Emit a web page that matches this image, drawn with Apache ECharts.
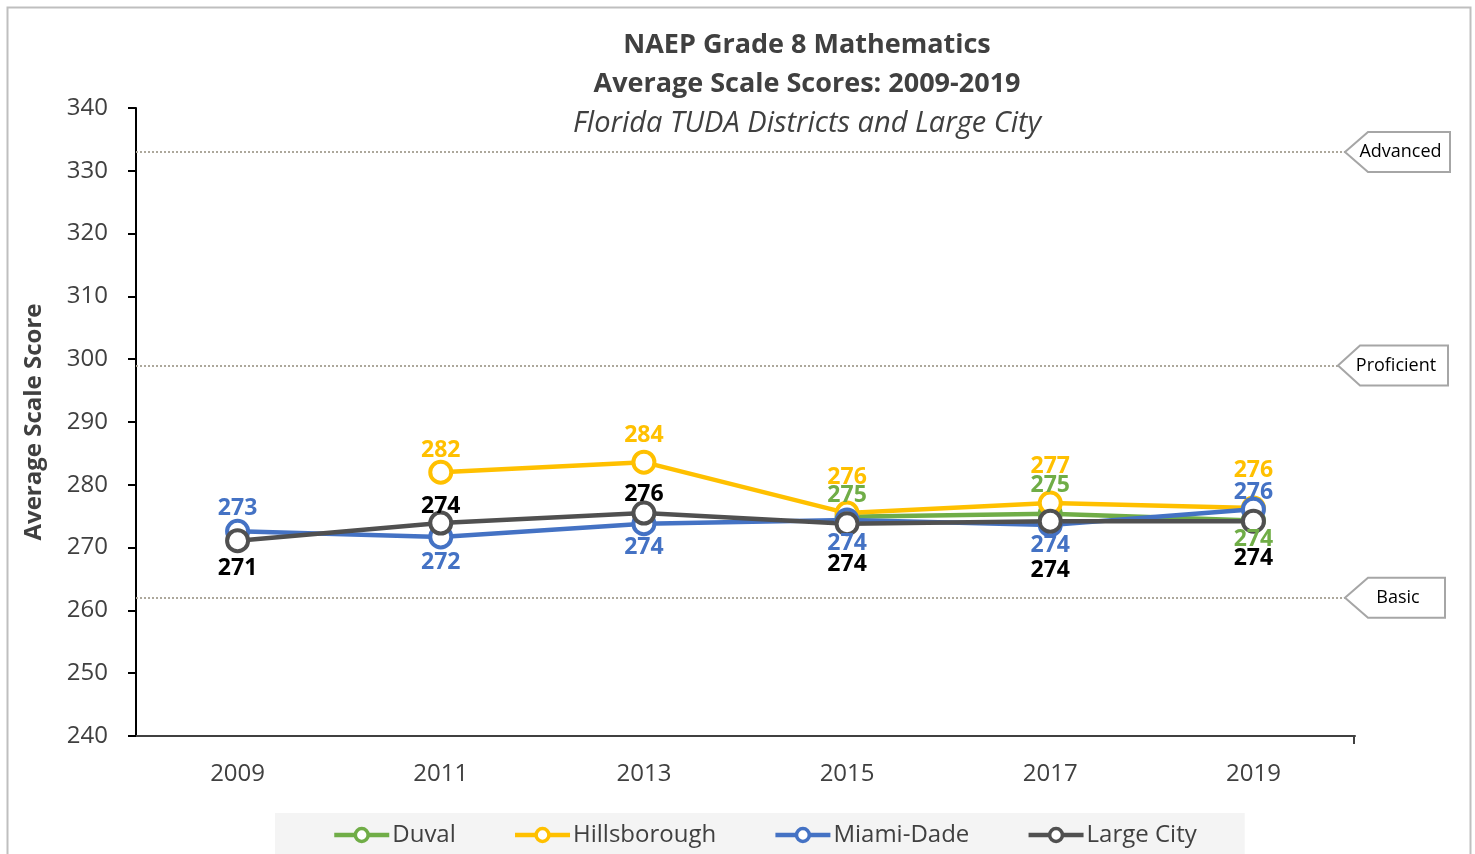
<!DOCTYPE html>
<html>
<head>
<meta charset="utf-8">
<script src="https://cdn.jsdelivr.net/npm/echarts@6/dist/echarts.min.js"></script>
<style>
  html, body { margin: 0; padding: 0; background: #fff; }
  #chart { width: 1475px; height: 854px; }
</style>
</head>
<body>
<div id="chart"></div>
<script>
// NAEP grade 8 math, Florida TUDA districts
var years = ['2009', '2011', '2013', '2015', '2017', '2019']
var duval = [null, null, null, 274.9, 275.4, 274.3]
var hillsborough = [null, 282.0, 283.6, 275.5, 277.1, 276.3]
var miamiDade = [272.6, 271.7, 273.8, 274.4, 273.6, 276.1]
var largeCity = [271.1, 273.9, 275.5, 273.8, 274.2, 274.2]
var levelNames = ['Advanced', 'Proficient', 'Basic']
var levelScores = [333, 299, 262]

var FONT = '"Open Sans", sans-serif'
var GREY = '#404040'

// label placement per point: [position, extra offset y]
function withLabels(values, place) {
  return values.map(function (v, i) {
    if (v === null) return null
    var p = place[i]
    return {
      value: v,
      label: { position: p[0], offset: [0, p[1]] }
    }
  })
}

function makeSeries(name, color, labelColor, values, place) {
  return {
    name: name,
    type: 'line',
    data: withLabels(values, place),
    symbol: 'circle',
    symbolSize: 21,
    lineStyle: { color: color, width: 4.5 },
    itemStyle: { color: '#fff', borderColor: color, borderWidth: 4 },
    label: {
      show: true,
      color: labelColor,
      fontFamily: FONT,
      fontSize: 23,
      fontWeight: 'bold',
      distance: 3,
      formatter: function (p) { return Math.round(p.value) }
    },
    emphasis: { disabled: true },
    animation: false
  }
}

var myChart = echarts.init(document.getElementById('chart'))

var series = [
  makeSeries('Duval', '#70AD47', '#70AD47', duval,
    [null, null, null, ['top', 6], ['top', -1], ['bottom', -8]]),
  makeSeries('Hillsborough', '#FFC000', '#FFC000', hillsborough,
    [null, ['top', 5], ['top', 0], ['top', -9], ['top', -10], ['top', -11]]),
  makeSeries('Miami-Dade', '#4472C4', '#4472C4', miamiDade,
    [['top', 4], ['bottom', -1], ['bottom', -3], ['bottom', -4], ['bottom', -7], ['top', 10]]),
  makeSeries('Large City', '#505050', '#000000', largeCity,
    [['bottom', 1], ['top', 10], ['top', 8], ['bottom', 14], ['bottom', 22], ['bottom', 10]])
]

// dotted achievement-level lines
series[3].markLine = {
  silent: true,
  symbol: 'none',
  label: { show: false },
  lineStyle: { color: '#ADA89C', type: 'dotted', width: 2 },
  data: levelScores.map(function (s) { return { yAxis: s } })
}

var option = {
  backgroundColor: '#fff',
  title: [
    {
      text: 'NAEP Grade 8 Mathematics',
      left: 802, top: 27, textAlign: 'center',
      textStyle: { fontFamily: FONT, fontSize: 27, fontWeight: 'bold', color: GREY }
    },
    {
      text: 'Average Scale Scores: 2009-2019',
      left: 802, top: 66, textAlign: 'center',
      textStyle: { fontFamily: FONT, fontSize: 27, fontWeight: 'bold', color: GREY }
    },
    {
      text: 'Florida TUDA Districts and Large City',
      left: 802, top: 104, textAlign: 'center',
      textStyle: { fontFamily: FONT, fontSize: 29, fontWeight: 'normal', fontStyle: 'italic', color: GREY }
    }
  ],
  legend: {
    data: ['Duval', 'Hillsborough', 'Miami-Dade', 'Large City'],
    left: 275,
    top: 813,
    padding: [10, 48, 14, 57],
    itemGap: 57,
    itemWidth: 55,
    itemHeight: 16,
    backgroundColor: '#f4f4f4',
    lineStyle: { width: 4.5 },
    itemStyle: { borderWidth: 3.5 },
    textStyle: { fontFamily: FONT, fontSize: 24, color: GREY, padding: [0, 0, 0, -2] }
  },
  grid: { left: 136, right: 120, top: 108, bottom: 118 },
  xAxis: {
    type: 'category',
    data: years,
    axisLine: { lineStyle: { color: GREY, width: 2 } },
    axisTick: { alignWithLabel: true, length: 8, lineStyle: { color: GREY, width: 2 } },
    axisLabel: { margin: 26, fontFamily: FONT, fontSize: 24, color: GREY }
  },
  yAxis: {
    type: 'value',
    min: 240,
    max: 340,
    interval: 10,
    name: 'Average Scale Score',
    nameLocation: 'middle',
    nameGap: 90,
    nameTextStyle: { fontFamily: FONT, fontSize: 24, fontWeight: 'bold', color: GREY },
    axisLine: { show: true, lineStyle: { color: '#000', width: 2 } },
    axisTick: { show: true, length: 8, lineStyle: { color: '#000', width: 2 } },
    splitLine: { show: false },
    axisLabel: { margin: 28, fontFamily: FONT, fontSize: 24, color: GREY }
  },
  series: series
}

myChart.setOption(option)

// frame, end tick on the x axis, and callout boxes for the achievement levels
var x0 = myChart.convertToPixel({ yAxisIndex: 0 }, 240)
var graphics = [{
  type: 'rect',
  shape: { x: 7.5, y: 7.5, width: 1463, height: 880 },
  style: { fill: 'none', stroke: '#BFBFBF', lineWidth: 2 },
  silent: true,
  z: 0
}, {
  type: 'line',
  shape: { x1: 1354, y1: x0, x2: 1354, y2: x0 + 8 },
  style: { stroke: GREY, lineWidth: 2 },
  silent: true
}]
var boxX = [[1345, 1368, 1450], [1338, 1360, 1448], [1345, 1368, 1445]]
levelNames.forEach(function (name, i) {
  var yc = myChart.convertToPixel({ yAxisIndex: 0 }, levelScores[i])
  var xp = boxX[i][0], xa = boxX[i][1], xb = boxX[i][2]
  graphics.push({
    type: 'polygon',
    shape: { points: [[xp, yc], [xa, yc - 20], [xb, yc - 20], [xb, yc + 20], [xa, yc + 20]] },
    style: { fill: '#fff', stroke: '#A6A6A6', lineWidth: 2 },
    z: 10
  })
  graphics.push({
    type: 'text',
    x: (xp + xb) / 2 + 3,
    y: yc,
    style: {
      text: name, fontFamily: FONT, fontSize: 18, fill: '#000',
      align: 'center', verticalAlign: 'middle'
    },
    z: 11
  })
})
myChart.setOption({ graphic: graphics })
</script>
</body>
</html>
